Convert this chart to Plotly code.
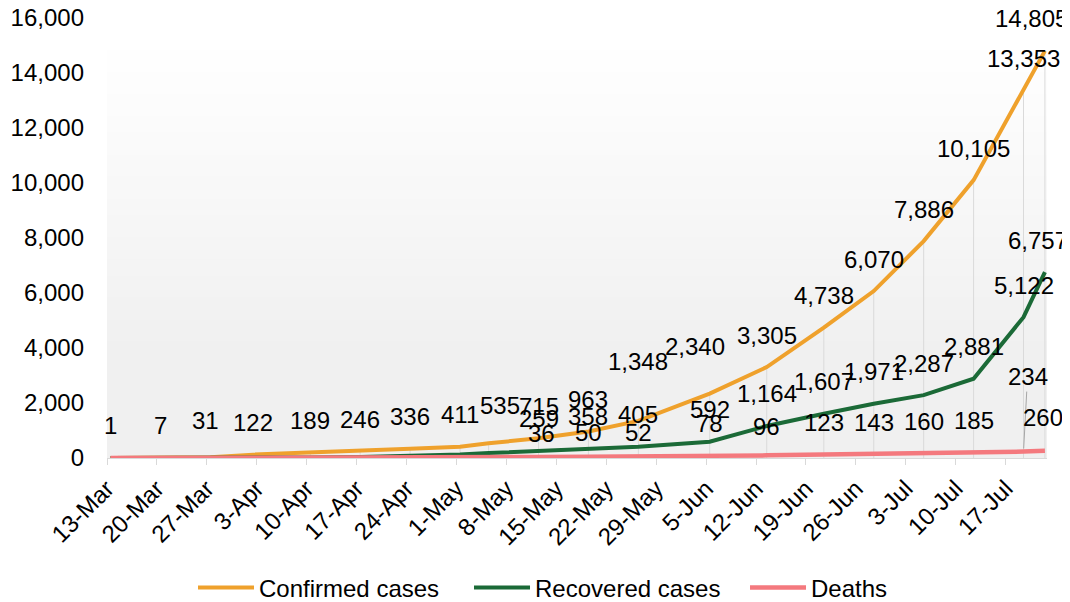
import plotly.graph_objects as go
import pandas as pd

# ---- data ----
dates = ["2020-03-13", "2020-03-20", "2020-03-27", "2020-04-02", "2020-04-10",
         "2020-04-17", "2020-04-24", "2020-05-01", "2020-05-05", "2020-05-12",
         "2020-05-19", "2020-05-26", "2020-06-05", "2020-06-13", "2020-06-21",
         "2020-06-28", "2020-07-05", "2020-07-12", "2020-07-19", "2020-07-22"]
confirmed = [1, 7, 31, 122, 189, 246, 336, 411, 535, 715, 963, 1348, 2340,
             3305, 4738, 6070, 7886, 10105, 13353, 14805]
recovered = [0, 0, 2, 8, 20, 40, 75, 130, 180, 259, 358, 405, 592, 1164,
             1607, 1971, 2287, 2881, 5122, 6757]
deaths = [0, 0, 1, 3, 6, 10, 15, 22, 28, 36, 50, 52, 78, 96, 123, 143, 160,
          185, 234, 260]
# first labelled point of each series (earlier labels were removed)
first_label = {"Confirmed cases": 0, "Recovered cases": 9, "Deaths": 9}

tick_labels = ["13-Mar", "20-Mar", "27-Mar", "3-Apr", "10-Apr", "17-Apr",
               "24-Apr", "1-May", "8-May", "15-May", "22-May", "29-May",
               "5-Jun", "12-Jun", "19-Jun", "26-Jun", "3-Jul", "10-Jul", "17-Jul"]

# label nudges (dx px, yshift px) where labels were dragged in the original
nudges = {
    ("Confirmed cases", 2): (-5, 37),
    ("Confirmed cases", 8): (11, 38),
    ("Confirmed cases", 11): (0, 59),
    ("Confirmed cases", 12): (-15, 47),
    ("Confirmed cases", 19): (-13, 32),
    ("Recovered cases", 19): (-7, 32),
    ("Deaths", 9): (3, 24),
    ("Deaths", 10): (0, 24),
    ("Deaths", 11): (0, 24),
    ("Deaths", 13): (0, 29),
    ("Deaths", 19): (-2, 33),
}
leader = ("Deaths", 18)  # label dragged away, joined by a leader line

FONT = "Liberation Sans, Arial, sans-serif"
FS = 24
PAGE = 8  # browser body margin that shifts the figure
series = [("Confirmed cases", confirmed, "#EFA12C"),
          ("Recovered cases", recovered, "#1B6A37"),
          ("Deaths", deaths, "#F4797E")]

x = pd.to_datetime(dates)
# ticks sit on day boundaries, points in the middle of the day
tickvals = pd.to_datetime([t + "-2020" for t in tick_labels], format="%d-%b-%Y") \
    - pd.Timedelta(hours=12)

fig = go.Figure()

# gradient plot background
n = 80
for i in range(n):
    t = i / n  # 0 at top
    c = 255 - 15 * min(1.0, max(0.0, (t - 0.05) / 0.7))
    col = f"rgb({c:.0f},{c:.0f},{c:.0f})"
    fig.add_shape(type="rect", xref="x domain", yref="y domain",
                  x0=0, x1=1, y0=1 - (i + 1) / n, y1=1 - i / n + 0.002,
                  fillcolor=col, line_width=0, layer="below")

# drop lines
dx_, dy_ = [], []
for d, v in zip(x, confirmed):
    dx_ += [d, d, None]
    dy_ += [0, v, None]
fig.add_trace(go.Scatter(x=dx_, y=dy_, mode="lines", showlegend=False,
                         line=dict(color="#DADADA", width=1), hoverinfo="skip"))

for name, vals, color in series:
    fig.add_trace(go.Scatter(x=x, y=vals, name=name, mode="lines",
                             line=dict(color=color, width=4.5 if name == "Deaths" else 4)))

annotations = []
for name, vals, color in series:
    for i in range(first_label[name], len(vals)):
        if (name, i) == leader:
            annotations.append(dict(x=x[i], y=vals[i], text=f"{vals[i]:,}",
                                    showarrow=True, arrowhead=0, arrowwidth=1,
                                    arrowcolor="#A6A6A6", ax=4, ay=-75, standoff=3,
                                    font=dict(family=FONT, size=FS, color="#000000")))
            continue
        ddx, ddy = nudges.get((name, i), (0, 32))
        annotations.append(dict(x=x[i], y=vals[i], text=f"{vals[i]:,}", showarrow=False,
                                xanchor="center", yanchor="middle", xshift=ddx, yshift=ddy,
                                font=dict(family=FONT, size=FS, color="#000000")))

fig.update_layout(
    template="none",
    width=1070, height=602,
    margin=dict(l=107 - PAGE, r=23 + PAGE, t=18 - PAGE, b=144 + PAGE, autoexpand=False),
    paper_bgcolor="white", plot_bgcolor="white",
    font=dict(family=FONT, size=FS, color="#000000"),
    annotations=annotations,
    showlegend=True,
    legend=dict(orientation="h", x=0.0915, xanchor="left", y=-0.295,
                yanchor="middle", font=dict(size=FS), itemwidth=56,
                entrywidth=205, entrywidthmode="pixels",
                traceorder="normal", bgcolor="rgba(0,0,0,0)"),
    xaxis=dict(
        type="date", automargin=False,
        range=["2020-03-12 12:00", "2020-07-22 07:00"],
        tickvals=tickvals, ticktext=tick_labels, tickangle=-45,
        ticks="outside", ticklen=6, tickcolor="#D9D9D9",
        showline=True, linecolor="#D9D9D9", linewidth=1,
        showgrid=False, zeroline=False, ticklabeloverflow="allow",
        tickfont=dict(size=FS),
    ),
    yaxis=dict(
        automargin=False,
        range=[0, 16000], dtick=2000, tickformat=",",
        showgrid=False, zeroline=False, showline=False, ticks="",
        ticklabelstandoff=22, ticklabeloverflow="allow", tickfont=dict(size=FS),
    ),
)

fig.write_html("out.html")
